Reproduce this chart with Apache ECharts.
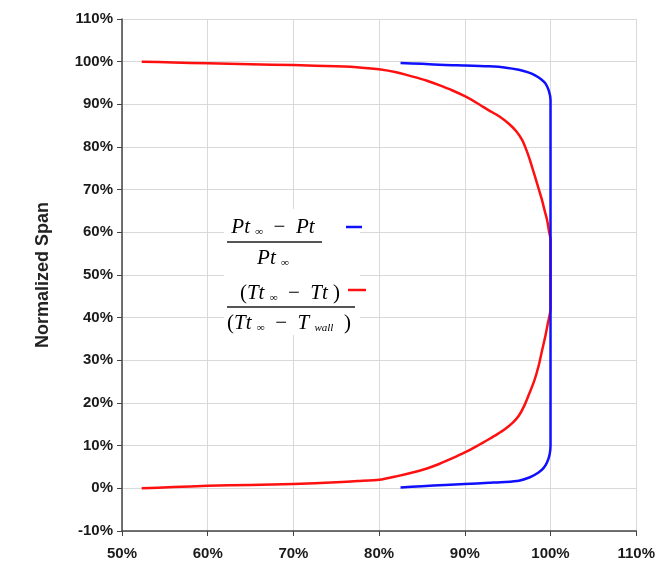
<!DOCTYPE html>
<html>
<head>
<meta charset="utf-8">
<style>
html,body{margin:0;padding:0;background:#fff;}
#chart{width:658px;height:573px;}
</style>
<script src="https://cdn.jsdelivr.net/npm/echarts@6/dist/echarts.min.js"></script>
</head>
<body>
<div id="chart"></div>
<script>
// Pressure ratio series (blue): x = ratio (%), y = normalized span (%)
var pressureX = [82.5, 85, 87.7, 90, 92.8, 94.8, 96.3, 97.4, 98.2, 98.9, 99.4, 99.8, 100,
                 100, 99.9, 99.6, 99.2, 98.6, 97.6, 96.3, 94.7, 92.8, 90, 87.7, 85, 82.5];
var pressureY = [99.7, 99.5, 99.2, 99.1, 98.9, 98.6, 98.1, 97.5, 96.8, 95.9, 94.9, 93.2, 91,
                 10, 8, 6.1, 4.8, 3.7, 2.6, 1.8, 1.5, 1.3, 1.0, 0.8, 0.5, 0.2];
// Temperature ratio series (red)
var tempX = [52.3, 56, 60, 65, 70, 75, 78, 80, 82, 83.9, 85.5, 87, 88.5, 90, 91.5, 92.8, 94, 95.1,
             96, 96.7, 97.2, 97.6, 98.2, 98.6, 99, 99.3, 99.6, 99.8, 100,
             100, 99.7, 99.4, 99, 98.6, 98.1, 97.4, 96.9, 96.3, 95.6, 94.7, 93.8, 92.8, 91.5, 90,
             88.5, 87, 85.5, 83.9, 82, 80, 77.5, 75, 70, 65, 60, 56, 52.3];
var tempY = [100, 99.8, 99.6, 99.4, 99.2, 98.9, 98.6, 98.2, 97.5, 96.5, 95.6, 94.5, 93.3, 91.9, 90.2, 88.6, 87.2, 85.5,
             83.7, 81.6, 79.2, 76.9, 73, 70.3, 67.6, 65.2, 62.9, 60.5, 58.3,
             41.9, 38.8, 35.7, 32.2, 28.6, 25.2, 21.6, 19.2, 17, 15.4, 13.9, 12.7, 11.5, 10, 8.4,
             7, 5.7, 4.6, 3.7, 2.8, 2.0, 1.7, 1.4, 1.0, 0.8, 0.6, 0.3, 0];
var xTicks = [50, 60, 70, 80, 90, 100, 110];
var yTicks = [-10, 0, 10, 20, 30, 40, 50, 60, 70, 80, 90, 100, 110];
var yAxisTitle = 'Normalized Span';

function pairs(xs, ys) { return xs.map(function (x, i) { return [x, ys[i]]; }); }

var chart = echarts.init(document.getElementById('chart'));
var labelStyle = {fontFamily: 'Liberation Sans, Arial, sans-serif', fontWeight: 'bold', fontSize: 15, color: '#1a1a1a'};
var serif = 'Liberation Serif, Times New Roman, serif';
var rich = {
  i: {fontFamily: serif, fontStyle: 'italic', fontSize: 21, color: '#2a2a2a'},
  n: {fontFamily: serif, fontSize: 21, color: '#2a2a2a'},
  s: {fontFamily: serif, fontStyle: 'italic', fontSize: 11, color: '#2a2a2a', verticalAlign: 'bottom', padding: [10, 0, 0, 0]}
};

chart.setOption({
  animation: false,
  grid: {left: 122, right: 20, top: 19, bottom: 42},
  xAxis: {
    type: 'value', min: 50, max: 110, interval: 10,
    axisLine: {show: true, onZero: false, lineStyle: {color: '#444', width: 1.5}},
    axisTick: {show: true, length: 5, lineStyle: {color: '#444'}},
    axisLabel: Object.assign({margin: 15, formatter: function (v) { return v + '%'; }}, labelStyle),
    splitLine: {show: true, lineStyle: {color: '#d9d9d9', width: 1}}
  },
  yAxis: {
    type: 'value', min: -10, max: 110, interval: 10,
    name: yAxisTitle, nameLocation: 'middle', nameGap: 70,
    nameTextStyle: {fontFamily: 'Liberation Sans, Arial, sans-serif', fontWeight: 'bold', fontSize: 18, color: '#222'},
    axisLine: {show: true, onZero: false, lineStyle: {color: '#444', width: 1.5}},
    axisTick: {show: true, length: 5, lineStyle: {color: '#444'}},
    axisLabel: Object.assign({margin: 9, formatter: function (v) { return v + '%'; }}, labelStyle),
    splitLine: {show: true, lineStyle: {color: '#d9d9d9', width: 1}}
  },
  series: [
    {type: 'line', name: 'Pressure', data: pairs(pressureX, pressureY), showSymbol: false, smooth: 0.2,
     lineStyle: {color: '#1010ff', width: 2.5, join: 'round'}, itemStyle: {color: '#1010ff'}, z: 3},
    {type: 'line', name: 'Temperature', data: pairs(tempX, tempY), showSymbol: false, smooth: 0.2,
     lineStyle: {color: '#ff1010', width: 2.5, join: 'round'}, itemStyle: {color: '#ff1010'}, z: 2}
  ],
  graphic: [
    {type: 'rect', shape: {x: 224, y: 209, width: 136, height: 126}, style: {fill: '#fff'}, z: 10},
    {type: 'text', x: 273, y: 227, z: 11, style: {text: '{i|Pt}{n| }{s|∞}{n|  −  }{i|Pt}', rich: rich, align: 'center', verticalAlign: 'middle'}},
    {type: 'line', z: 11, shape: {x1: 227, y1: 242, x2: 322, y2: 242}, style: {stroke: '#555', lineWidth: 2}},
    {type: 'text', x: 273, y: 258, z: 11, style: {text: '{i|Pt}{n| }{s|∞}', rich: rich, align: 'center', verticalAlign: 'middle'}},
    {type: 'line', z: 11, shape: {x1: 346, y1: 227, x2: 362, y2: 227}, style: {stroke: '#1010ff', lineWidth: 2.5}},
    {type: 'text', x: 290, y: 293, z: 11, style: {text: '{n|(}{i|Tt}{n| }{s|∞}{n|  −  }{i|Tt}{n| )}', rich: rich, align: 'center', verticalAlign: 'middle'}},
    {type: 'line', z: 11, shape: {x1: 227, y1: 307, x2: 355, y2: 307}, style: {stroke: '#555', lineWidth: 2}},
    {type: 'text', x: 289, y: 323, z: 11, style: {text: '{n|(}{i|Tt}{n| }{s|∞}{n|  −  }{i|T}{n| }{s|wall}{n|  )}', rich: rich, align: 'center', verticalAlign: 'middle'}},
    {type: 'line', z: 11, shape: {x1: 348, y1: 290, x2: 366, y2: 290}, style: {stroke: '#ff1010', lineWidth: 2.5}}
  ]
});
</script>
</body>
</html>
